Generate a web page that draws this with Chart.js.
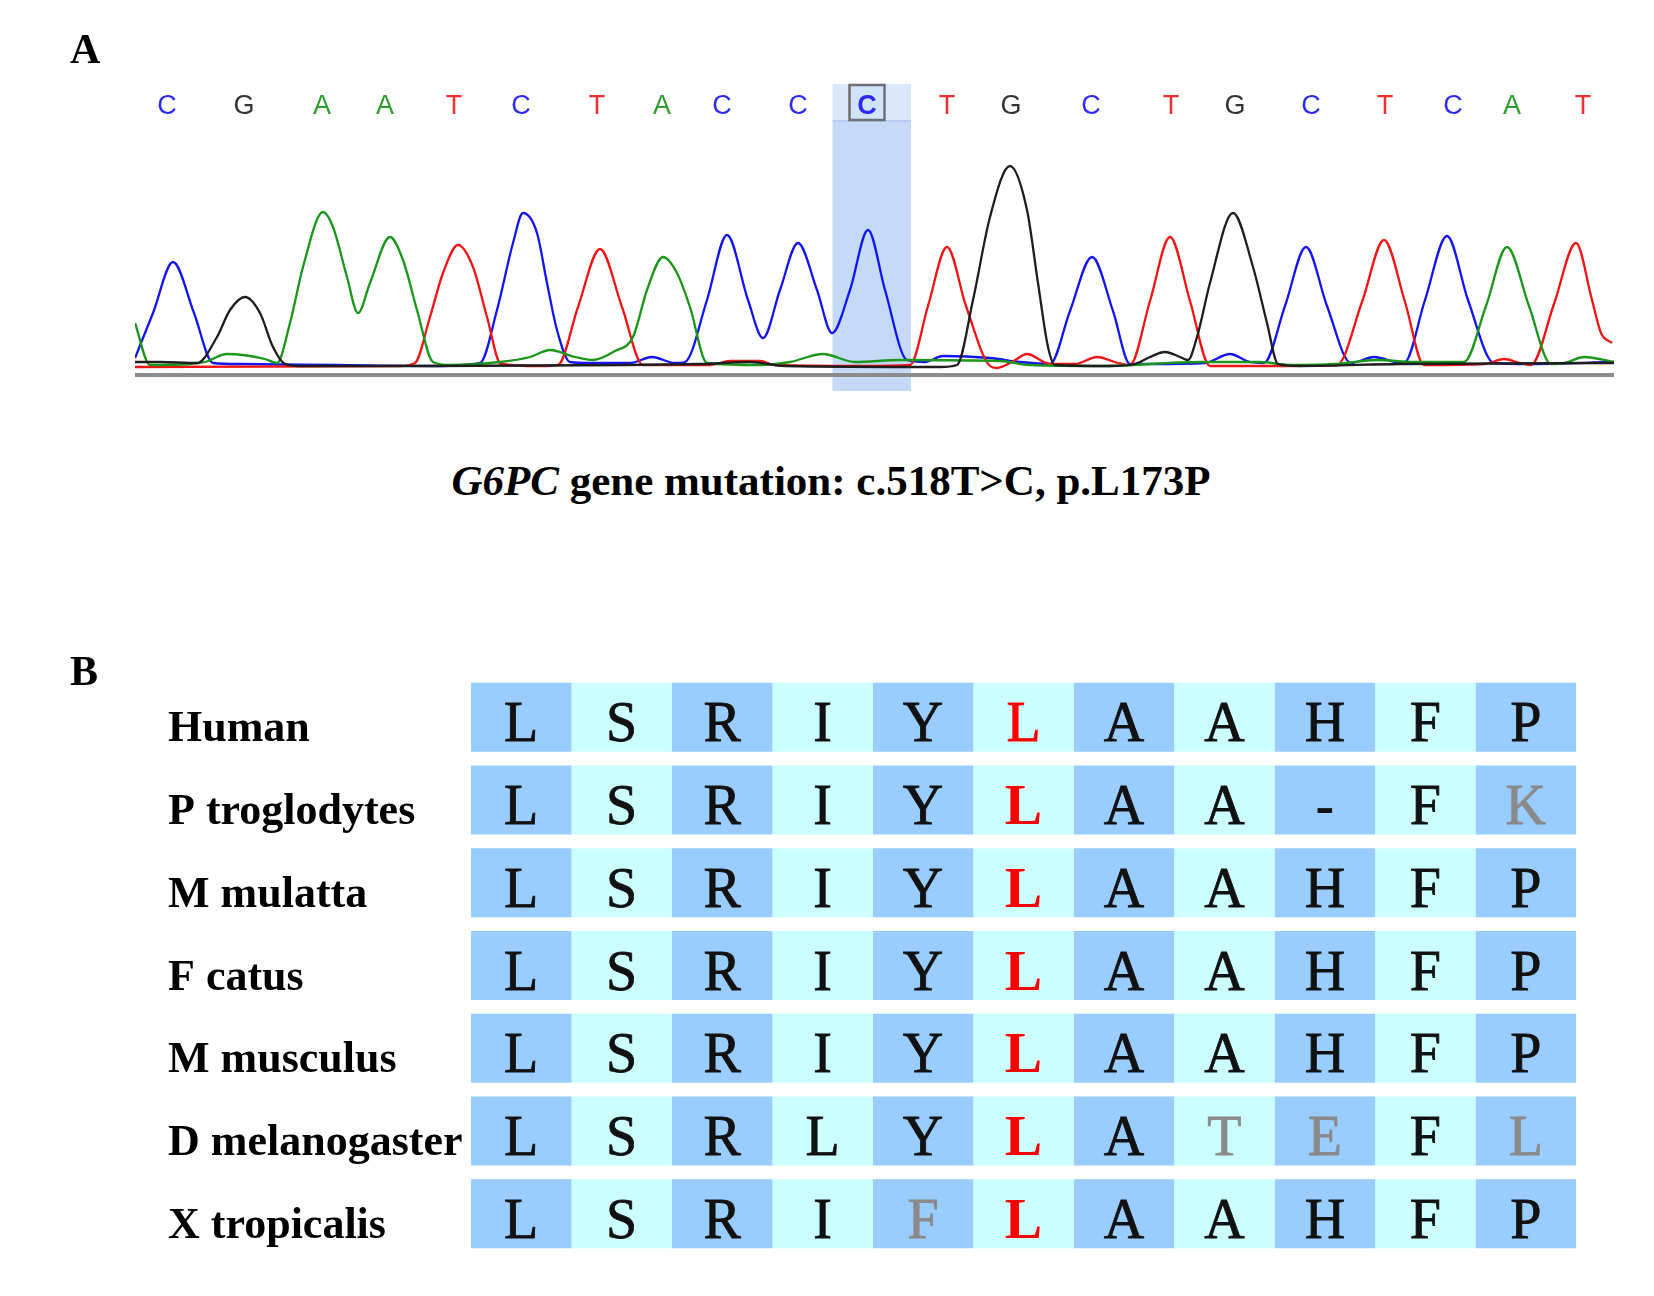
<!DOCTYPE html>
<html>
<head>
<meta charset="utf-8">
<script src="https://cdn.jsdelivr.net/npm/chart.js@4.4.1/dist/chart.umd.min.js"></script>
<style>
  html, body { margin: 0; padding: 0; background: #fff; }
  #page { position: relative; width: 1654px; height: 1296px; overflow: hidden; }
  canvas { position: absolute; left: 0; }
  #traceCanvas { top: 0; }
  #alignCanvas { top: 600px; }
  .panel { position: absolute; left: 70px; font: bold 42px "Liberation Serif", serif; line-height: 42px; }
  #caption { position: absolute; left: 0; width: 1662px; top: 459px; text-align: center;
             font: bold 43px "Liberation Serif", serif; line-height: 43px; white-space: nowrap; }
</style>
</head>
<body>
<div id="page">
  <canvas id="traceCanvas" width="1654" height="430"></canvas>
  <canvas id="alignCanvas" width="1654" height="696"></canvas>
  <div class="panel" style="top:28px">A</div>
  <div id="caption"><i>G6PC</i> gene mutation: c.518T&gt;C, p.L173P</div>
  <div class="panel" style="top:650px">B</div>
</div>
<script>
// ---- panel A: sequencing trace (scan position, signal) ----
const baseCalls = ['C','G','A','A','T','C','T','A','C','C','C','T','G','C','T','G','C','T','C','A','T']
const basePositions = [32, 109, 187, 250, 319, 386, 462, 527, 587, 663, 732, 812, 876, 956, 1036, 1100, 1176, 1250, 1318, 1377, 1448]
const highlightIndex = 10

const traceC = [[0,7],[18,52],[38,103],[59,52],[78,2],[105,1],[200,0],[300,-1],[345,2],[362,55],[378,122],[388,152],[402,132],[412,82],[422,35],[435,3],[455,2],[495,2],[517,8],[540,2],[550,3],[572,65],[592,130],[613,65],[628,27],[645,75],[663,122],[682,75],[697,32],[715,75],[733,135],[750,75],[772,5],[790,3],[808,9],[855,7],[885,3],[915,1],[935,54],[957,108],[978,54],[995,1],[1015,1],[1070,2],[1095,11],[1115,3],[1129,2],[1150,59],[1171,118],[1192,59],[1216,2],[1239,8],[1260,3],[1269,2],[1290,65],[1312,129],[1333,65],[1359,2],[1395,1],[1479,3]]
const traceT = [[0,-2],[265,-1],[280,2],[295,48],[308,92],[323,120],[338,98],[352,48],[366,1],[405,-1],[423,0],[443,58],[465,116],[487,58],[508,0],[575,0],[595,4],[625,4],[640,0],[725,-1],[775,0],[793,59],[812,118],[831,59],[855,-1],[862,-3],[877,3],[892,11],[915,1],[940,1],[962,8],[983,2],[995,0],[1015,64],[1035,128],[1055,64],[1075,-1],[1125,-1],[1202,0],[1227,63],[1249,125],[1270,63],[1289,0],[1350,1],[1369,6],[1385,2],[1396,0],[1419,61],[1441,122],[1457,65],[1466,32],[1477,22]]
const traceA = [[0,42],[15,0],[55,1],[70,3],[92,11],[130,6],[142,2],[155,42],[168,98],[188,153],[198,138],[212,88],[223,52],[235,82],[255,128],[268,105],[282,55],[298,3],[315,0],[365,3],[395,8],[415,15],[440,8],[458,5],[480,14],[498,28],[512,75],[528,108],[542,92],[555,58],[572,2],[625,0],[655,3],[688,11],[720,3],[765,5],[865,4],[895,0],[965,-1],[1065,3],[1125,3],[1155,0],[1200,1],[1242,5],[1279,3],[1329,3],[1351,59],[1372,118],[1394,59],[1416,1],[1430,2],[1449,8],[1479,3]]
const traceG = [[0,3],[25,3],[62,2],[82,28],[95,55],[110,68],[125,52],[138,18],[150,1],[165,-1],[565,1],[615,3],[650,-1],[805,-2],[822,0],[838,65],[855,148],[875,199],[892,155],[903,82],[913,18],[920,0],[975,-1],[1000,1],[1015,8],[1030,13],[1045,8],[1053,5],[1062,28],[1075,82],[1098,152],[1118,98],[1132,42],[1143,1],[1165,-1],[1265,1],[1465,2],[1479,2]]

// ---- panel B: protein alignment ----
const residueNumbers = [168, 169, 170, 171, 172, 173, 174, 175, 176, 177, 178]
const mutationSite = 173
const species = ['Human', 'P troglodytes', 'M mulatta', 'F catus', 'M musculus', 'D melanogaster', 'X tropicalis']
const alignment = ['LSRIYLAAHFP', 'LSRIYLAA-FK', 'LSRIYLAAHFP', 'LSRIYLAAHFP', 'LSRIYLAAHFP', 'LSRLYLATEFL', 'LSRIFLAAHFP']
const greyMask  = ['...........', '..........g', '...........', '...........', '...........', '.......gg.g', '....g......']

const baseColors = { A: '#1a961a', C: '#1414f0', G: '#1e1e1e', T: '#f01414' }
const letterColors = { A: '#2e9e2e', C: '#2b2bf5', G: '#333333', T: '#f03030' }

const chromatogramDecor = {
  id: 'chromatogramDecor',
  beforeDatasetsDraw(chart) {
    const { ctx, chartArea, scales: { x } } = chart
    const left = x.getPixelForValue((basePositions[highlightIndex - 1] + basePositions[highlightIndex]) / 2)
    const right = x.getPixelForValue((basePositions[highlightIndex] + basePositions[highlightIndex + 1]) / 2) + 4
    ctx.save()
    ctx.fillStyle = '#dbe8fb'
    ctx.fillRect(left, chartArea.top - 61, right - left, 37)
    ctx.fillStyle = '#c4daf7'
    ctx.fillRect(left, chartArea.top - 24, right - left, chartArea.bottom - chartArea.top + 39)
    ctx.fillStyle = '#b3cbee'
    ctx.fillRect(left, chartArea.top - 25, right - left, 2)
    ctx.restore()
  },
  afterDatasetsDraw(chart) {
    const { ctx, chartArea, scales: { x } } = chart
    ctx.save()
    ctx.fillStyle = '#8c8c8c'
    ctx.fillRect(chartArea.left, chartArea.bottom - 3, chartArea.right - chartArea.left, 4)

    ctx.textAlign = 'center'
    ctx.textBaseline = 'alphabetic'
    baseCalls.forEach((b, i) => {
      const px = x.getPixelForValue(basePositions[i])
      if (i === highlightIndex) {
        ctx.fillStyle = '#d0e4fb'
        ctx.fillRect(px - 17.5, chartArea.top - 60, 35, 35)
        ctx.strokeStyle = '#6f6f6f'
        ctx.lineWidth = 2.5
        ctx.strokeRect(px - 17.5, chartArea.top - 60, 35, 35)
        ctx.font = 'bold 27px "Liberation Sans"'
      } else {
        ctx.font = '27px "Liberation Sans"'
      }
      ctx.fillStyle = letterColors[b]
      ctx.fillText(b, px, chartArea.top - 31)
    })
    ctx.restore()
  }
}

const traceDataset = (base, data) => ({
  label: base,
  data: data,
  borderColor: baseColors[base],
  borderWidth: 2.3,
  pointRadius: 0,
  fill: false,
  cubicInterpolationMode: 'monotone'
})

new Chart(document.getElementById('traceCanvas'), {
  type: 'line',
  data: {
    datasets: [
      traceDataset('G', traceG),
      traceDataset('A', traceA),
      traceDataset('T', traceT),
      traceDataset('C', traceC)
    ]
  },
  options: {
    responsive: false,
    animation: false,
    devicePixelRatio: 1,
    layout: { padding: { left: 135, right: 40, top: 145, bottom: 54 } },
    plugins: { legend: { display: false }, tooltip: { enabled: false } },
    scales: {
      x: { type: 'linear', min: 0, max: 1479, display: false },
      y: { type: 'linear', min: -11, max: 220, display: false }
    }
  },
  plugins: [chromatogramDecor]
})

const alignmentText = {
  id: 'alignmentText',
  afterDatasetsDraw(chart) {
    const { ctx, chartArea, scales: { x, y } } = chart
    ctx.save()
    ctx.textBaseline = 'alphabetic'
    species.forEach((name, r) => {
      const cy = y.getPixelForValue(r)
      ctx.font = 'bold 44px "Liberation Serif"'
      ctx.textAlign = 'left'
      ctx.fillStyle = '#000'
      ctx.fillText(name, chartArea.left - 303, cy + 24)

      ctx.textAlign = 'center'
      alignment[r].split('').forEach((aa, c) => {
        const px = x.getPixelForValue(residueNumbers[c])
        let color = '#111111'
        let weight = ''
        if (residueNumbers[c] === mutationSite) {
          color = '#ff0000'
          if (r > 0) weight = 'bold '
        }
        if (greyMask[r][c] === 'g') color = '#8a8a8a'
        if (aa === '-') weight = 'bold '
        ctx.font = weight + '56px "Liberation Serif"'
        ctx.fillStyle = color
        ctx.fillText(aa, px, cy + 24)
        if (!weight) {
          // the source letters are a little heavier than plain regular
          ctx.strokeStyle = color
          ctx.lineWidth = 0.8
          ctx.strokeText(aa, px, cy + 24)
        }
      })
    })
    ctx.restore()
  }
}

new Chart(document.getElementById('alignCanvas'), {
  type: 'bar',
  data: {
    labels: species,
    datasets: residueNumbers.map((pos, c) => ({
      label: String(pos),
      data: species.map(() => [pos - 0.5, pos + 0.5]),
      backgroundColor: c % 2 === 0 ? '#99ccff' : '#ccffff',
      borderWidth: 0,
      grouped: false,
      barPercentage: 0.834,
      categoryPercentage: 1
    }))
  },
  options: {
    indexAxis: 'y',
    responsive: false,
    animation: false,
    devicePixelRatio: 1,
    layout: { padding: { left: 471, right: 78, top: 76, bottom: 41 } },
    plugins: { legend: { display: false }, tooltip: { enabled: false } },
    scales: {
      x: { type: 'linear', min: 167.5, max: 178.5, display: false },
      y: { display: false }
    }
  },
  plugins: [alignmentText]
})
</script>
</body>
</html>
